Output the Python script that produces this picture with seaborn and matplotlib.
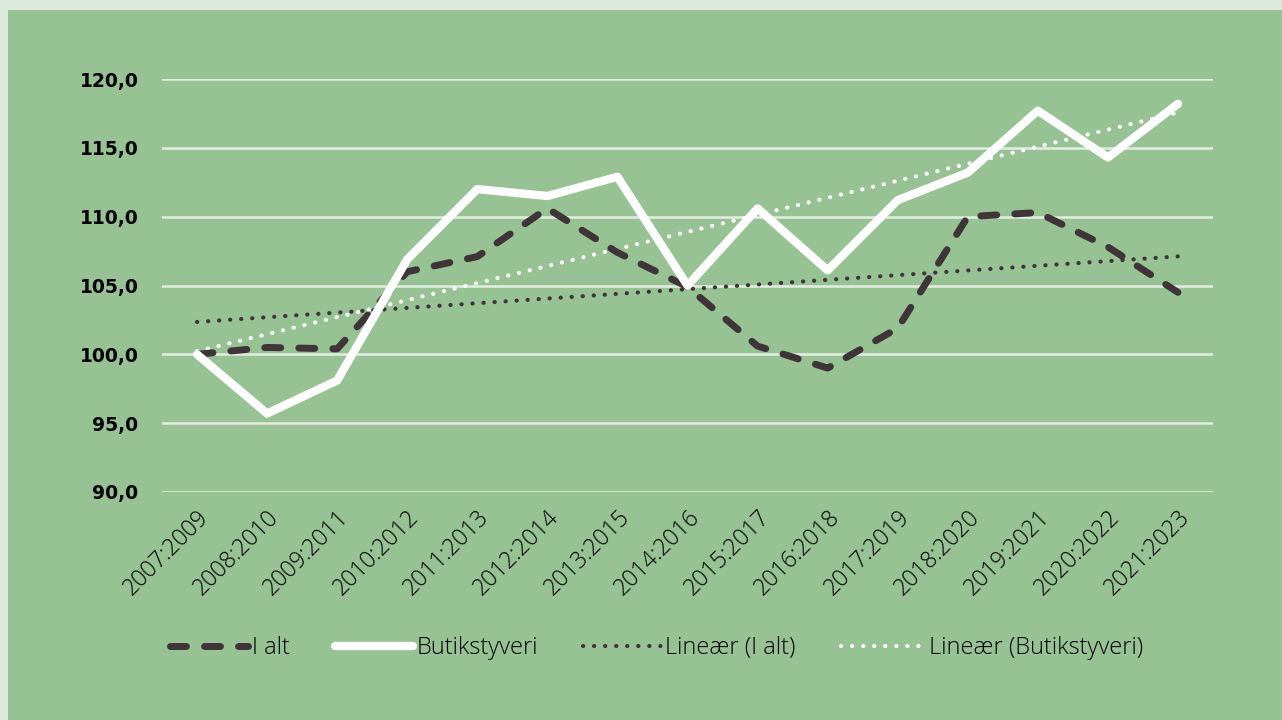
import matplotlib
matplotlib.use("Agg")
import matplotlib.pyplot as plt
import matplotlib.patches as mpatches
import seaborn as sns
import pandas as pd
import numpy as np

periods = ["2007:2009", "2008:2010", "2009:2011", "2010:2012", "2011:2013",
           "2012:2014", "2013:2015", "2014:2016", "2015:2017", "2016:2018",
           "2017:2019", "2018:2020", "2019:2021", "2020:2022", "2021:2023"]
i_alt = [100.0, 100.5, 100.4, 106.0, 107.1, 110.6, 107.4, 104.9, 100.6, 99.0,
         101.9, 110.0, 110.3, 107.8, 104.5]
butik = [100.0, 95.7, 98.1, 106.9, 112.0, 111.5, 112.9, 105.0, 110.6, 106.1,
         111.2, 113.2, 117.7, 114.3, 118.2]

df = pd.DataFrame({"periode": periods, "I alt": i_alt, "Butikstyveri": butik})
df["pos"] = np.arange(len(periods))

# linear trend lines like Excel's "Lineær"
for col in ["I alt", "Butikstyveri"]:
    k, m = np.polyfit(df["pos"], df[col], 1)
    df["trend " + col] = k * df["pos"] + m

sns.set_style("white")
plt.rcParams["font.family"] = ["Open Sans", "DejaVu Sans"]

dark = "#3f3539"
bg = "#97c293"

fig = plt.figure(figsize=(12.82, 7.2), dpi=100)
fig.patch.set_facecolor("#dde9dc")
fig.patches.append(mpatches.Rectangle((8 / 1282, 0), 1, 710 / 720, transform=fig.transFigure,
                                      facecolor=bg, edgecolor="none", zorder=-5))
ax = fig.add_axes([162 / 1282, 1 - 492 / 720, 1051 / 1282, 413 / 720])
ax.set_facecolor("none")

sns.lineplot(data=df, x="pos", y="trend I alt", color=dark, linewidth=3, ax=ax, label="Lineær (I alt)")
sns.lineplot(data=df, x="pos", y="trend Butikstyveri", color="white", linewidth=3, ax=ax,
             label="Lineær (Butikstyveri)")
sns.lineplot(data=df, x="pos", y="I alt", color=dark, linewidth=5, ax=ax, label="I alt")
sns.lineplot(data=df, x="pos", y="Butikstyveri", color="white", linewidth=6, ax=ax, label="Butikstyveri")

l_trend1, l_trend2, l_ialt, l_butik = ax.lines[:4]
for ln in (l_trend1, l_trend2):
    ln.set_linestyle((0, (0.05, 2.6)))
    ln.set_dash_capstyle("round")
l_ialt.set_linestyle((0, (2.3, 2.6)))
l_ialt.set_dash_capstyle("round")
l_ialt.set_solid_joinstyle("round")
l_butik.set_solid_capstyle("round")
l_trend1.set_zorder(2)
l_trend2.set_zorder(2.1)
l_ialt.set_zorder(3)
l_butik.set_zorder(4)

ax.set_xlim(-0.5, len(periods) - 0.5)
ax.set_ylim(90, 120)
ax.set_yticks(np.arange(90, 121, 5))
ax.set_yticklabels([f"{v:.1f}".replace(".", ",") for v in np.arange(90, 121, 5)],
                   fontsize=13.5, fontweight="bold", color="black", family="DejaVu Sans")
ax.set_xticks(df["pos"])
ax.set_xticklabels(periods, rotation=45, ha="right", rotation_mode="anchor",
                   fontsize=16.5, fontweight="light", color="black")
ax.tick_params(axis="both", length=0)
ax.tick_params(axis="y", pad=17)
ax.tick_params(axis="x", pad=10)
ax.grid(axis="y", color="#e3eee0", linewidth=1.8)
ax.set_axisbelow(True)
for s in ax.spines.values():
    s.set_visible(False)
ax.set_xlabel("")
ax.set_ylabel("")
if ax.get_legend():
    ax.get_legend().remove()

fig.legend(handles=[l_ialt, l_butik, l_trend1, l_trend2],
           labels=["I alt", "Butikstyveri", "Lineær (I alt)", " Lineær (Butikstyveri)"],
           loc="center", bbox_to_anchor=(0.512, 1 - 648 / 720), ncol=4, frameon=False,
           handlelength=3.3, handletextpad=0.18, columnspacing=1.9, labelcolor="black",
           prop={"family": "Open Sans", "weight": "light", "size": 17})

fig.savefig("out.png", dpi=100, facecolor=fig.get_facecolor())
